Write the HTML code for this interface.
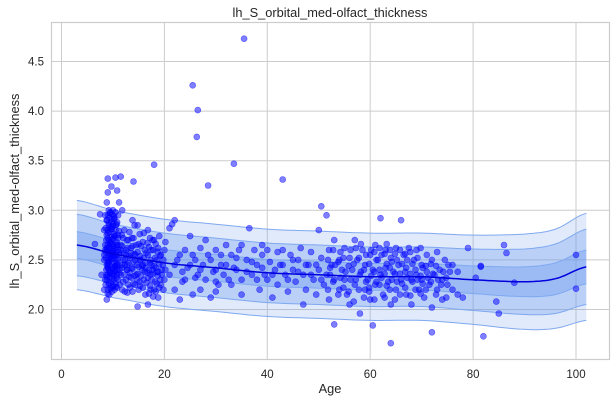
<!DOCTYPE html>
<html><head><meta charset="utf-8"><style>
html,body{margin:0;padding:0;background:#fff;}
svg{display:block;font-family:"Liberation Sans","DejaVu Sans",sans-serif;}
</style></head><body>
<svg id="chart" width="616" height="402" viewBox="0 0 616 402">
<rect x="0" y="0" width="616" height="402" fill="#fff"/>
<g id="grid"></g>
<g id="bands"></g>
<g id="pts"></g>
<g id="meanline"></g>
<rect x="51.5" y="22.5" width="558" height="337" fill="none" stroke="#ccc" stroke-width="1.2"/>
<g id="ticks"></g>
<text x="330" y="17" text-anchor="middle" font-size="12.8" fill="#262626">lh_S_orbital_med-olfact_thickness</text>
<text x="330" y="393" text-anchor="middle" font-size="12.8" fill="#262626">Age</text>
<text x="0" y="0" transform="translate(19,191) rotate(-90)" text-anchor="middle" font-size="12.8" fill="#262626">lh_S_orbital_med-olfact_thickness</text>
</svg>
<script>
const xTicks=[0,20,40,60,80,100];
const yTicks=[2.0,2.5,3.0,3.5,4.0,4.5];
const curveAges=[3,10,20,30,40,50,60,70,80,90,96,102];
const curveMean=[2.65,2.56,2.47,2.42,2.37,2.35,2.33,2.33,2.30,2.28,2.31,2.43];
const curveSd1=[0.135,0.135,0.135,0.135,0.135,0.135,0.135,0.135,0.14,0.15,0.16,0.17];
const curveSd2=[0.31,0.30,0.30,0.30,0.30,0.30,0.30,0.30,0.31,0.33,0.35,0.38];
const curveSd3=[0.45,0.44,0.44,0.44,0.44,0.44,0.44,0.44,0.45,0.48,0.50,0.54];
const denseCols=[
[8.5,[2.2,2.3,2.4,2.5,2.6,2.7,2.8,2.95,2.35,2.55,2.65]],
[8.8,[2.25,2.33,2.42,2.52,2.62,2.72,2.82,2.9,2.45,2.58]],
[9,[2.1,2.2,2.25,2.3,2.35,2.4,2.45,2.5,2.55,2.6,2.65,2.7,2.75,2.8,2.85,2.9,2.95,3.0,3.08,3.18,2.48]],
[9.2,[2.16,2.27,2.37,2.47,2.57,2.67,2.77,2.87,2.97,2.42,2.62]],
[9.5,[2.15,2.22,2.28,2.33,2.38,2.43,2.48,2.53,2.58,2.63,2.68,2.73,2.78,2.83,2.88,2.93,2.98,3.24]],
[9.8,[2.21,2.31,2.41,2.51,2.61,2.71,2.81,2.91,2.36,2.56,2.66]],
[10,[2.18,2.23,2.3,2.36,2.41,2.46,2.51,2.56,2.61,2.66,2.71,2.76,2.81,2.86,2.91,2.96,3.0,2.52]],
[10.2,[2.24,2.34,2.44,2.54,2.64,2.74,2.84,2.94,2.39,2.59]],
[10.5,[2.2,2.26,2.32,2.38,2.44,2.5,2.56,2.62,2.68,2.74,2.8,2.86,2.92,2.98,2.47]],
[10.8,[2.23,2.35,2.45,2.55,2.65,2.75,2.85,2.4,2.6]],
[11,[2.22,2.3,2.37,2.44,2.51,2.58,2.65,2.72,2.79,2.88,2.95,3.08,3.2]],
[11.5,[2.25,2.35,2.45,2.55,2.65,2.75,2.4,2.6]],
[12,[2.2,2.28,2.35,2.42,2.5,2.57,2.64,2.72,2.8,3.0]],
[12.5,[2.18,2.3,2.4,2.5,2.6,2.7,2.45,2.55]],
[13,[2.17,2.25,2.33,2.4,2.47,2.54,2.62,2.7,2.78,2.45]],
[13.5,[2.22,2.32,2.42,2.52,2.62,2.72,2.37,2.57]],
[14,[2.18,2.26,2.34,2.41,2.48,2.56,2.64,2.72,2.85,2.9]],
[14.5,[2.25,2.35,2.45,2.55,2.65,2.3,2.5]],
[15,[2.03,2.2,2.28,2.36,2.43,2.5,2.58,2.66,2.76,2.85]],
[15.5,[2.24,2.34,2.44,2.54,2.64,2.4,2.5]],
[16,[2.22,2.3,2.38,2.45,2.52,2.6,2.68,2.77]],
[16.5,[2.15,2.27,2.37,2.47,2.57,2.67,2.42]],
[17,[2.05,2.16,2.24,2.32,2.4,2.47,2.55,2.63,2.72,2.8]],
[17.5,[2.2,2.3,2.4,2.5,2.6,2.7,2.35,2.45]],
[18,[2.13,2.2,2.28,2.36,2.44,2.52,2.6,2.7]],
[18.5,[2.18,2.26,2.34,2.42,2.5,2.58,2.66,2.38]],
[19,[2.12,2.22,2.3,2.38,2.46,2.54,2.62,2.74]],
[19.5,[2.25,2.35,2.45,2.55,2.4]],
[20,[2.2,2.3,2.4,2.5,2.6,2.68]]
];
const midCols=[
[52,[2.2,2.35,2.5,2.42]],[53,[2.28,2.45,2.6]],[54,[2.15,2.32,2.48,2.58]],[55,[2.22,2.38,2.52]],
[56,[2.18,2.3,2.44,2.6]],[57,[2.08,2.3,2.46,2.62]],[58,[2.2,2.38,2.52,2.66]],[59,[2.12,2.28,2.4,2.55]],
[60,[2.18,2.34,2.46,2.6,2.22]],[61,[2.1,2.28,2.38,2.5,2.58]],[62,[2.25,2.32,2.4,2.55,2.62]],
[63,[2.12,2.24,2.36,2.46,2.56,2.66]],[64,[2.2,2.3,2.42,2.48,2.6]],[65,[2.1,2.28,2.36,2.5,2.56]],
[66,[2.15,2.26,2.36,2.46,2.6]],[67,[2.22,2.32,2.38,2.5,2.56]],[68,[2.14,2.28,2.36,2.46,2.58]],
[69,[2.2,2.3,2.4,2.52]],[70,[2.16,2.26,2.34,2.42,2.62]],[71,[2.2,2.32,2.44]],[72,[2.28,2.36,2.46]],
[73,[2.15,2.3,2.44]],[74,[2.25,2.38]],[75,[2.32,2.45,2.12]]
];
const observations=[
[6.5,2.66],[7.5,2.96],[7.8,2.35],[35.5,4.73],[25.5,4.26],[26.5,4.01],[26.3,3.74],[33.5,3.47],[18,3.46],[28.5,3.25],[43,3.31],[14,3.29],[10.5,3.33],[9,3.32],[11.5,3.34],[50.5,3.04],[82,1.73],[72,1.77],[64,1.66],[60.5,1.84],[53,1.85],[85,1.96],[100,2.55],[100,2.21],[86,2.65],[88,2.27],[86.5,2.57],[79,2.62],[84.5,2.08],[77,2.38],[80.5,2.32],[81.5,2.44],[81.5,2.43],
[21,2.82],[21.5,2.86],[22,2.9],[21,2.35],[22,2.45],[22,2.2],[23,2.55],[23,2.1],[23.5,2.38],[24,2.6],[24,2.3],[25,2.74],[25,2.45],[25.5,2.15],[26,2.5],[26.5,2.35],[27,2.62],[27,2.2],[27.5,2.45],[28,2.7],[28,2.3],[29,2.5],[29,2.12],[30,2.4],[30,2.6],[30.5,2.25],[31,2.55],[31.5,2.35],[32,2.65],[32,2.45],[33,2.25],[33,2.55],[34,2.4],[34.5,2.6],[35,2.3],[35,2.15],[36,2.5],[36.5,2.82],[37,2.35],[37.5,2.6],[38,2.45],[38.5,2.2],[39,2.55],[39.5,2.35],[40,2.6],[40,2.3],[40.5,2.48],[41,2.12],[41.5,2.4],[42,2.58],[42,2.25],[43,2.45],[43.5,2.35],[44,2.18],[44.5,2.55],[45,2.4],[45.5,2.28],[46,2.5],[46.5,2.62],[47,2.35],[47,2.05],[47.5,2.2],[48,2.45],[48.5,2.58],[49,2.3],[49.5,2.15],[50,2.8],[50,2.4],[50.5,2.52],[51,2.25],[51.5,2.95],[51.5,2.35],[52,2.6],[52,2.1],[52.5,2.45],[53,2.3],[53,2.7],[54,2.5],[54,2.2],[54.5,2.4],[55,2.62],[55,2.3],[55.5,2.15],[56,2.52],[56,2.05],[56.5,2.4],[57,2.7],[57,2.25],[57.5,2.5],[58,2.35],[58,1.96],[58.5,2.6],[59,2.2],[59,2.45],[59.5,2.3],[60,2.55],[60,2.1],[60.5,2.4],[61,2.65],[61,2.25],[61.5,2.5],[62,2.92],[62,2.35],[62.5,2.15],[63,2.6],[63,2.42],[63.5,2.28],[64,2.52],[64,2.05],[64.5,2.38],[65,2.62],[65,2.2],[65.5,2.45],[66,2.3],[66,2.9],[66.5,2.55],[67,2.15],[67,2.42],[67.5,2.62],[68,2.3],[68,2.05],[68.5,2.5],[69,2.35],[69,2.6],[69.5,2.2],[70,2.45],[70,2.3],[70.5,2.12],[71,2.55],[71,2.38],[71.5,2.25],[72,2.5],[72,2.02],[72.5,2.35],[73,2.58],[73,2.2],[73.5,2.4],[74,2.1],[74,2.3],[74.5,2.5],[75,2.25],[75.5,2.38],[76,2.2],[76,2.45],[77,2.15],[78,2.12],
[22.5,2.5],[23.5,2.28],[24.5,2.42],[25.5,2.55],[26,2.32],[27,2.4],[28.5,2.55],[29.5,2.38],[30,2.28],[31,2.45],[32.5,2.3],[33.5,2.42],[34,2.52],[36,2.38],[37,2.48],[38,2.3],[39,2.42],[41,2.35],[42.5,2.45],[44,2.3],[45,2.5],[46,2.38],[47.5,2.45],[48.5,2.35],[49.5,2.45],[50.5,2.3],[43,2.6],[39,2.65],[35,2.65],[30,2.18]
];
const X0=61.5, XS=5.145, Y0=309.5, YS=99.2;
const xS=v=>X0+v*XS, yS=v=>Y0-(v-2)*YS;
const NS='http://www.w3.org/2000/svg';
function mk(tag,attrs,parent){const e=document.createElementNS(NS,tag);for(const k in attrs)e.setAttribute(k,attrs[k]);parent.appendChild(e);return e;}
const grid=document.getElementById('grid'),ticks=document.getElementById('ticks');
xTicks.forEach(t=>{
  const l=mk('line',{x1:xS(t),x2:xS(t),y1:22.5,y2:359.5,stroke:'#ccc','stroke-width':1},grid);
  
  
  const tx=mk('text',{x:xS(t),y:378,'text-anchor':'middle','font-size':11.5,fill:'#262626'},ticks);
  tx.textContent=t;
  
  
});
yTicks.forEach(t=>{
  const l=mk('line',{x1:51.5,x2:609.5,y1:yS(t),y2:yS(t),stroke:'#ccc','stroke-width':1},grid);
  
  
  const tx=mk('text',{x:44,y:yS(t)+4,'text-anchor':'end','font-size':11.5,fill:'#262626'},ticks);
  tx.textContent=t.toFixed(1);
  
  
});
function sample(arr){
  const out=[];const n=curveAges.length;
  for(let i=0;i<n-1;i++){
    const p0=arr[Math.max(i-1,0)],p1=arr[i],p2=arr[i+1],p3=arr[Math.min(i+2,n-1)];
    const a0=curveAges[i],a1=curveAges[i+1];
    for(let s=0;s<10;s++){const t=s/10;
      const v=0.5*((2*p1)+(-p0+p2)*t+(2*p0-5*p1+4*p2-p3)*t*t+(-p0+3*p1-3*p2+p3)*t*t*t);
      out.push([a0+(a1-a0)*t,v]);}
  }
  out.push([curveAges[n-1],arr[n-1]]);return out;
}
const m=sample(curveMean),s1=sample(curveSd1),s2=sample(curveSd2),s3=sample(curveSd3);
const bands=document.getElementById('bands');
function band(sd,fill,name){
  const up=m.map((p,i)=>[p[0],p[1]+sd[i][1]]);
  const lo=m.map((p,i)=>[p[0],p[1]-sd[i][1]]).reverse();
  const d='M'+up.concat(lo).map(p=>xS(p[0]).toFixed(1)+','+yS(p[1]).toFixed(1)).join('L')+'Z';
  const e=mk('path',{d:d,fill:fill,stroke:'none'},bands);
  
  
  [up,lo].forEach(pp=>{const ln=mk('path',{d:'M'+pp.map(p=>xS(p[0]).toFixed(1)+','+yS(p[1]).toFixed(1)).join('L'),fill:'none',stroke:'#7fa8f0','stroke-width':1},bands);
    
    });
}
band(s3,'rgba(100,149,237,0.2)','outer-band');
band(s2,'rgba(100,149,237,0.3)','middle-band');
band(s1,'rgba(100,149,237,0.35)','inner-band');
const pts=document.getElementById('pts');
function dot(a,v){const c=mk('circle',{cx:xS(a).toFixed(1),cy:yS(v).toFixed(1),r:3,fill:'rgba(0,0,255,0.5)',stroke:'rgba(0,0,255,0.55)','stroke-width':0.6},pts);
  
  }
denseCols.forEach(c=>c[1].forEach((v,j)=>dot(c[0]+((j%3)-1)*0.2,v)));
midCols.forEach(c=>c[1].forEach((v,j)=>dot(c[0]+((j%2)-0.5)*0.4,v)));
observations.forEach(o=>dot(o[0],o[1]));
const ml=mk('path',{d:'M'+m.map(p=>xS(p[0]).toFixed(1)+','+yS(p[1]).toFixed(1)).join('L'),fill:'none',stroke:'#0000dd','stroke-width':1.5},document.getElementById('meanline'));


</script>
</body></html>
